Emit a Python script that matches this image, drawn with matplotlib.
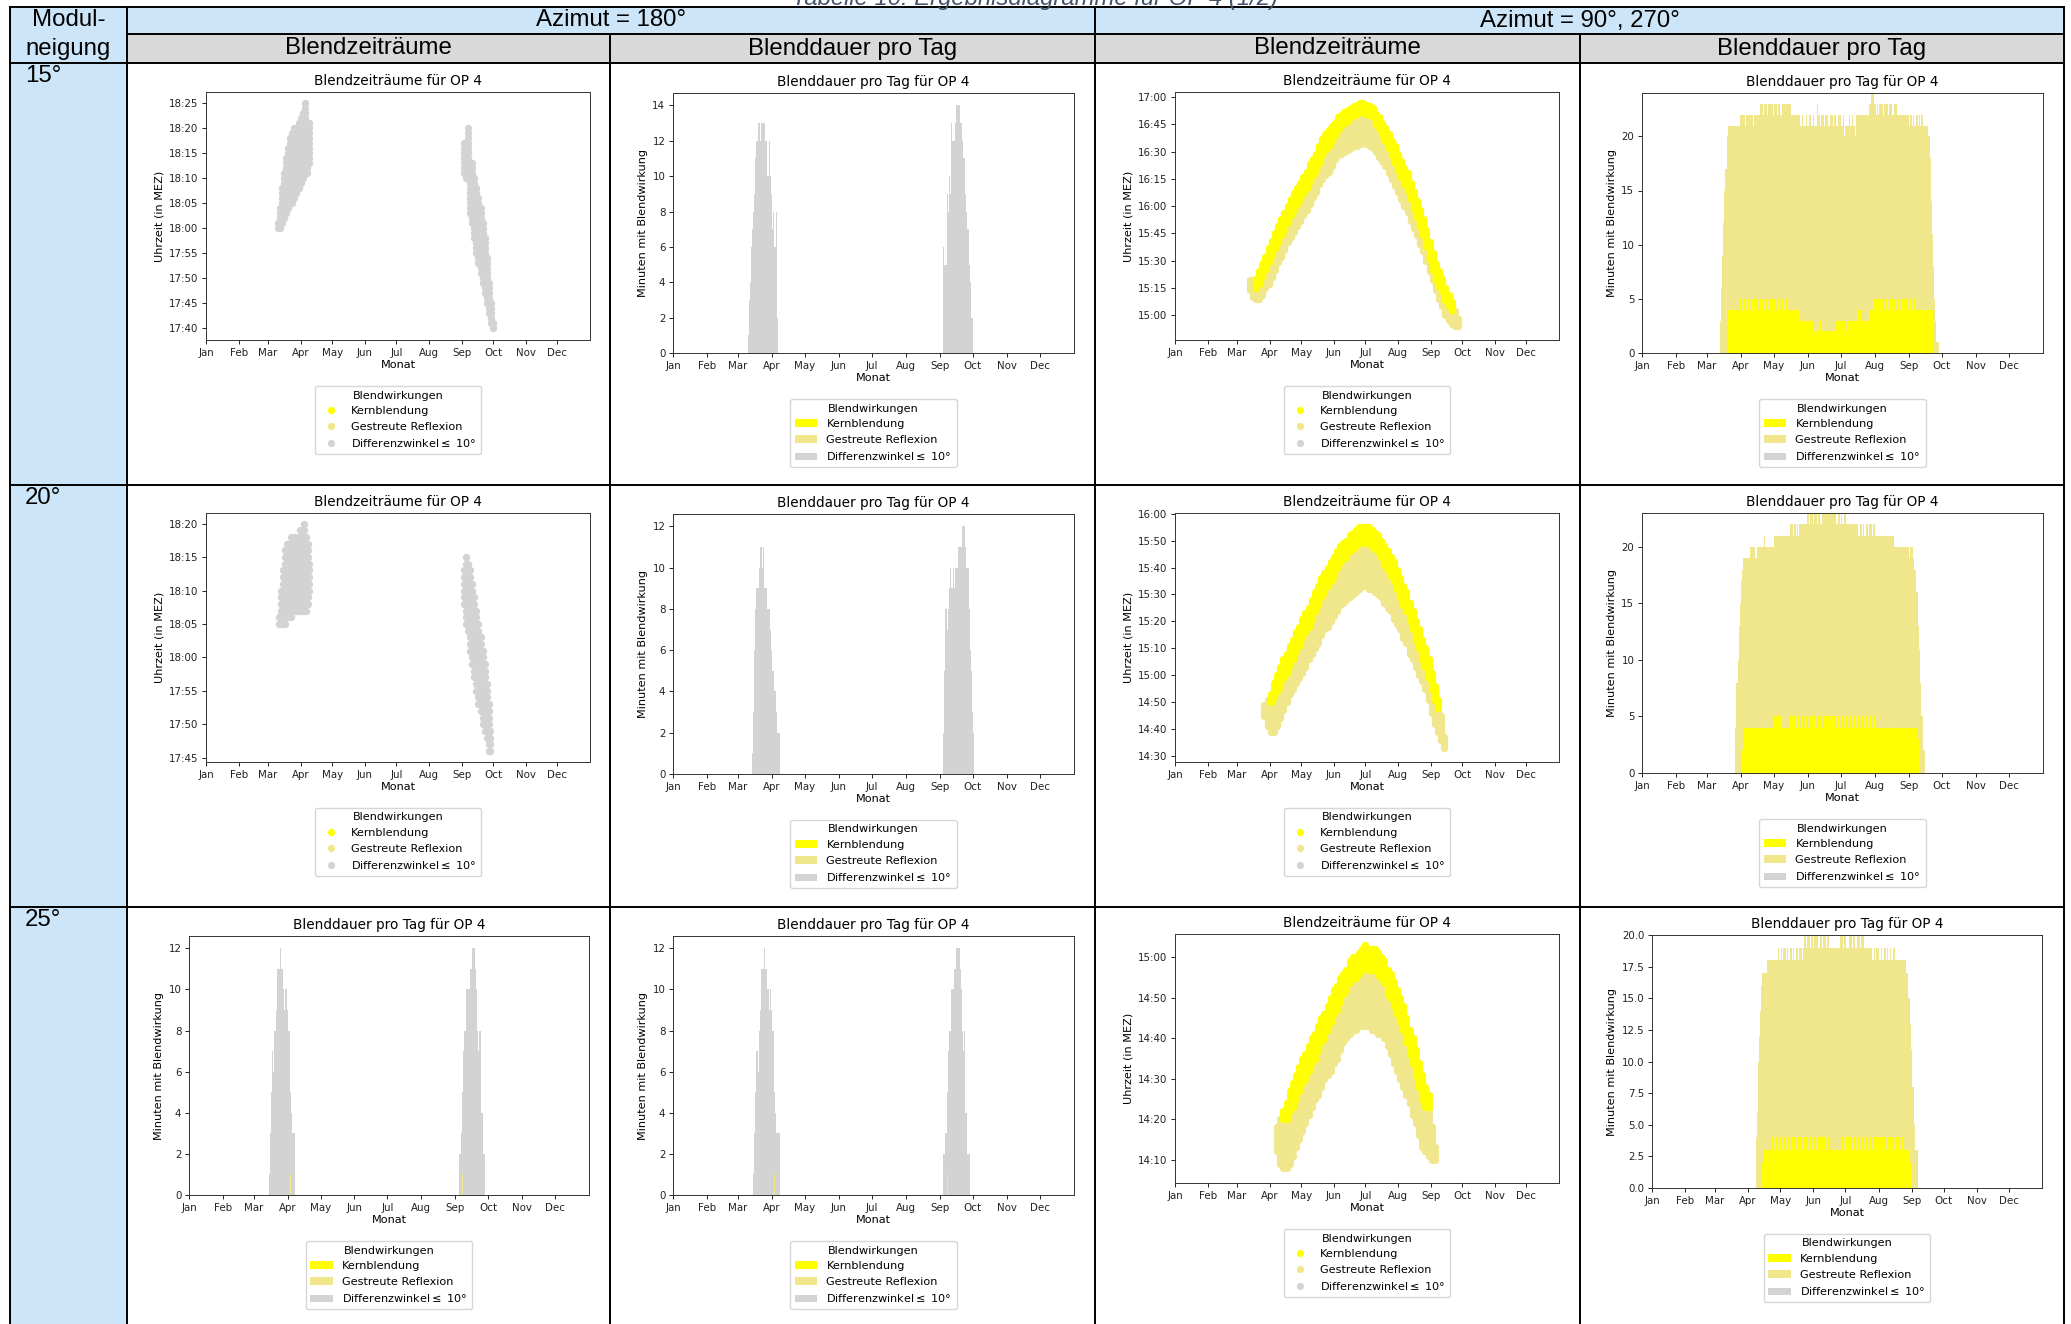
import matplotlib
matplotlib.use("Agg")
import matplotlib.pyplot as plt
from matplotlib.patches import Rectangle, Patch
from matplotlib.lines import Line2D
import numpy as np

plt.rcParams['font.family'] = ['DejaVu Sans']

W, H = 2071, 1324

KERN = '#FFFF00'
GESTR = '#F0E68C'
DIFF = '#D3D3D3'
LABELS = ['Kernblendung', 'Gestreute Reflexion', 'Differenzwinkel$\\leq$ 10°']

MONTHS = ['Jan', 'Feb', 'Mar', 'Apr', 'May', 'Jun', 'Jul', 'Aug', 'Sep', 'Oct', 'Nov', 'Dec']
MONTH_DAY = [0, 31, 59, 90, 120, 151, 181, 212, 243, 273, 304, 334]

# ---------------- Blendzeitraeume, Azimut 180 (day, von, bis) ----------------
A_180_TIMES = [
    (68, '18:00', '18:01'), (70, '18:00', '18:04'), (72, '18:01', '18:08'), (74, '18:02', '18:11'),
    (76, '18:03', '18:14'), (78, '18:04', '18:16'), (80, '18:05', '18:18'), (82, '18:05', '18:19'),
    (84, '18:06', '18:20'), (86, '18:07', '18:20'), (88, '18:08', '18:21'), (90, '18:09', '18:22'),
    (92, '18:10', '18:23'), (94, '18:11', '18:25'), (96, '18:11', '18:21'), (98, '18:13', '18:21'),
    (245, '18:11', '18:17'), (247, '18:10', '18:16'), (249, '18:10', '18:20'), (251, '18:03', '18:13'),
    (253, '18:01', '18:13'), (255, '17:58', '18:10'), (257, '17:55', '18:08'), (259, '17:53', '18:06'),
    (261, '17:51', '18:04'), (263, '17:49', '18:01'), (265, '17:47', '17:58'), (267, '17:45', '17:54'),
    (269, '17:43', '17:49'), (271, '17:41', '17:45'), (273, '17:40', '17:41'),
]
B_180_TIMES = [
    (69, '18:05', '18:06'), (71, '18:05', '18:10'), (73, '18:05', '18:13'), (75, '18:05', '18:16'),
    (77, '18:06', '18:17'), (79, '18:06', '18:17'), (81, '18:06', '18:18'), (83, '18:07', '18:18'),
    (85, '18:07', '18:18'), (87, '18:07', '18:18'), (89, '18:07', '18:19'), (91, '18:07', '18:19'),
    (93, '18:07', '18:20'), (95, '18:07', '18:18'), (97, '18:08', '18:17'), (98, '18:10', '18:14'),
    (245, '18:08', '18:13'), (247, '18:05', '18:15'), (249, '18:04', '18:14'), (251, '18:01', '18:13'),
    (253, '17:59', '18:11'), (255, '17:57', '18:09'), (257, '17:55', '18:07'), (259, '17:53', '18:05'),
    (261, '17:52', '18:03'), (263, '17:50', '18:01'), (265, '17:49', '17:59'), (267, '17:48', '17:56'),
    (269, '17:46', '17:53'), (270, '17:46', '17:49'),
]

# ---------------- Blendzeitraeume, Azimut 90/270 (day, von, Kern ab, bis) ----------------
A_90_TIMES = [
    (71, '15:14', None, '15:19'), (74, '15:10', None, '15:19'), (77, '15:09', '15:15', '15:20'),
    (80, '15:09', '15:17', '15:24'), (83, '15:11', '15:21', '15:28'), (86, '15:15', '15:25', '15:32'),
    (89, '15:17', '15:29', '15:37'), (92, '15:21', '15:33', '15:41'), (95, '15:25', '15:37', '15:45'),
    (98, '15:29', '15:40', '15:49'), (101, '15:32', '15:44', '15:53'), (104, '15:36', '15:47', '15:56'),
    (107, '15:40', '15:51', '16:00'), (110, '15:43', '15:55', '16:04'), (113, '15:46', '15:58', '16:07'),
    (116, '15:49', '16:01', '16:10'), (119, '15:52', '16:04', '16:13'), (122, '15:55', '16:07', '16:16'),
    (125, '15:58', '16:10', '16:19'), (128, '16:01', '16:14', '16:23'), (131, '16:05', '16:17', '16:26'),
    (134, '16:08', '16:20', '16:29'), (137, '16:12', '16:24', '16:33'), (140, '16:15', '16:28', '16:37'),
    (143, '16:17', '16:31', '16:40'), (146, '16:19', '16:33', '16:42'), (149, '16:22', '16:36', '16:44'),
    (152, '16:26', '16:39', '16:46'), (155, '16:28', '16:42', '16:49'), (158, '16:29', '16:44', '16:50'),
    (161, '16:30', '16:46', '16:52'), (164, '16:31', '16:47', '16:53'), (167, '16:32', '16:49', '16:54'),
    (170, '16:33', '16:50', '16:55'), (173, '16:33', '16:51', '16:56'), (176, '16:34', '16:52', '16:57'),
    (179, '16:35', '16:52', '16:57'), (182, '16:34', '16:51', '16:56'), (185, '16:33', '16:50', '16:55'),
    (188, '16:32', '16:49', '16:54'), (191, '16:30', '16:45', '16:51'), (194, '16:27', '16:43', '16:49'),
    (197, '16:25', '16:39', '16:46'), (200, '16:22', '16:36', '16:43'), (203, '16:18', '16:32', '16:40'),
    (206, '16:15', '16:28', '16:36'), (209, '16:11', '16:24', '16:33'), (212, '16:08', '16:20', '16:29'),
    (215, '16:04', '16:16', '16:25'), (218, '16:00', '16:12', '16:21'), (221, '15:57', '16:09', '16:18'),
    (224, '15:52', '16:04', '16:13'), (227, '15:48', '15:59', '16:08'), (230, '15:44', '15:54', '16:03'),
    (233, '15:39', '15:49', '15:58'), (236, '15:35', '15:44', '15:53'), (239, '15:30', '15:38', '15:47'),
    (242, '15:24', '15:31', '15:40'), (245, '15:19', '15:25', '15:34'), (248, '15:14', '15:20', '15:28'),
    (251, '15:09', '15:16', '15:24'), (254, '15:05', '15:13', '15:20'), (257, '15:00', '15:08', '15:15'),
    (260, '14:57', '15:05', '15:11'), (263, '14:55', '15:03', '15:07'), (266, '14:54', None, '15:02'),
    (269, '14:54', None, '14:58'),
]
B_90_TIMES = [
    (85, '14:45', None, '14:49'), (88, '14:41', None, '14:51'), (91, '14:39', '14:50', '14:53'),
    (94, '14:39', '14:52', '14:57'), (97, '14:41', '14:54', '15:00'), (100, '14:44', '14:56', '15:03'),
    (103, '14:47', '14:59', '15:06'), (106, '14:50', '15:01', '15:08'), (109, '14:53', '15:04', '15:11'),
    (112, '14:55', '15:06', '15:13'), (115, '14:57', '15:09', '15:16'), (118, '14:59', '15:11', '15:18'),
    (121, '15:01', '15:14', '15:21'), (124, '15:03', '15:16', '15:23'), (127, '15:06', '15:18', '15:25'),
    (130, '15:08', '15:21', '15:28'), (133, '15:10', '15:24', '15:31'), (136, '15:12', '15:26', '15:33'),
    (139, '15:15', '15:29', '15:36'), (142, '15:17', '15:31', '15:38'), (145, '15:18', '15:33', '15:40'),
    (148, '15:20', '15:35', '15:42'), (151, '15:22', '15:37', '15:44'), (154, '15:24', '15:40', '15:46'),
    (157, '15:26', '15:42', '15:48'), (160, '15:27', '15:43', '15:49'), (163, '15:28', '15:44', '15:50'),
    (166, '15:29', '15:46', '15:52'), (169, '15:30', '15:47', '15:53'), (172, '15:31', '15:48', '15:54'),
    (175, '15:32', '15:49', '15:55'), (178, '15:33', '15:49', '15:55'), (181, '15:33', '15:49', '15:55'),
    (184, '15:32', '15:49', '15:55'), (187, '15:32', '15:48', '15:54'), (190, '15:31', '15:47', '15:53'),
    (193, '15:30', '15:46', '15:52'), (196, '15:29', '15:44', '15:50'), (199, '15:27', '15:41', '15:48'),
    (202, '15:25', '15:39', '15:46'), (205, '15:24', '15:37', '15:44'), (208, '15:21', '15:35', '15:42'),
    (211, '15:19', '15:32', '15:39'), (214, '15:17', '15:29', '15:36'), (217, '15:14', '15:26', '15:33'),
    (220, '15:12', '15:24', '15:31'), (223, '15:08', '15:20', '15:27'), (226, '15:06', '15:17', '15:24'),
    (229, '15:03', '15:13', '15:20'), (232, '15:00', '15:10', '15:17'), (235, '14:58', '15:06', '15:13'),
    (238, '14:55', '15:03', '15:10'), (241, '14:51', '14:59', '15:06'), (244, '14:46', '14:55', '15:01'),
    (247, '14:42', '14:51', '14:56'), (250, '14:39', '14:48', '14:51'), (253, '14:36', None, '14:45'),
    (256, '14:33', None, '14:37'),
]
C_90_TIMES = [
    (97, '14:12', None, '14:18'), (100, '14:09', None, '14:20'), (103, '14:08', '14:20', '14:22'),
    (106, '14:08', '14:20', '14:24'), (109, '14:09', '14:22', '14:27'), (112, '14:11', '14:23', '14:29'),
    (115, '14:13', '14:25', '14:31'), (118, '14:15', '14:27', '14:33'), (121, '14:17', '14:29', '14:35'),
    (124, '14:19', '14:30', '14:36'), (127, '14:21', '14:32', '14:38'), (130, '14:23', '14:34', '14:40'),
    (133, '14:25', '14:35', '14:41'), (136, '14:26', '14:37', '14:43'), (139, '14:28', '14:39', '14:45'),
    (142, '14:30', '14:40', '14:46'), (145, '14:31', '14:42', '14:48'), (148, '14:32', '14:44', '14:50'),
    (151, '14:34', '14:46', '14:52'), (154, '14:35', '14:47', '14:53'), (157, '14:37', '14:49', '14:55'),
    (160, '14:39', '14:51', '14:56'), (163, '14:40', '14:52', '14:57'), (166, '14:41', '14:54', '14:59'),
    (169, '14:42', '14:55', '15:00'), (172, '14:42', '14:55', '15:00'), (175, '14:43', '14:56', '15:01'),
    (178, '14:43', '14:57', '15:02'), (181, '14:43', '14:58', '15:03'), (184, '14:43', '14:57', '15:02'),
    (187, '14:42', '14:57', '15:02'), (190, '14:42', '14:57', '15:02'), (193, '14:41', '14:56', '15:01'),
    (196, '14:41', '14:55', '15:00'), (199, '14:40', '14:54', '14:59'), (202, '14:38', '14:51', '14:57'),
    (205, '14:36', '14:50', '14:56'), (208, '14:34', '14:48', '14:54'), (211, '14:32', '14:46', '14:52'),
    (214, '14:30', '14:44', '14:50'), (217, '14:28', '14:42', '14:48'), (220, '14:26', '14:39', '14:45'),
    (223, '14:24', '14:36', '14:42'), (226, '14:21', '14:34', '14:40'), (229, '14:19', '14:31', '14:37'),
    (232, '14:16', '14:28', '14:34'), (235, '14:13', '14:25', '14:31'), (238, '14:12', '14:23', '14:28'),
    (241, '14:11', '14:23', '14:26'), (244, '14:10', None, '14:18'), (247, '14:10', None, '14:13'),
]

# ---------------- Blenddauer pro Tag, Azimut 180 (Starttag, Minuten je Tag) ----------------
A_180_DIFF = [(68, [1, 3, 4, 6, 7, 8, 9, 11, 12, 13, 13, 12, 13, 13, 13, 13, 12, 12, 10, 12, 10, 9, 7, 8, 6, 6, 8, 2]),
              (246, [6, 5, 5, 9, 8, 10, 9, 13, 12, 12, 12, 13, 14, 14, 14, 13, 13, 12, 11, 11, 9, 8, 7, 5, 4, 2, 2])]
B_180_DIFF = [(72, [1, 3, 6, 8, 9, 9, 10, 11, 11, 10, 11, 9, 9, 9, 8, 8, 7, 6, 5, 5, 4, 4, 3, 2, 2]),
              (246, [2, 5, 8, 7, 8, 9, 10, 9, 9, 10, 9, 10, 10, 11, 11, 11, 11, 12, 12, 12, 11, 10, 10, 8, 6, 5, 3, 2])]
C_180_DIFF = [(73, [1, 3, 5, 7, 6, 8, 9, 11, 11, 11, 12, 11, 11, 10, 9, 10, 9, 8, 8, 5, 4, 3, 3, 3]),
              (246, [2, 2, 3, 5, 7, 8, 8, 10, 10, 10, 11, 11, 12, 12, 12, 11, 10, 8, 7, 8, 4, 4, 2, 2])]
C_180_GESTR = [(92, [1]), (249, [1])]

# ---------------- Blenddauer pro Tag, Azimut 90/270 (Starttag, (Minuten, Anzahl Tage)) ----------------
A_90_GESTR = (71, [(3, 1), (6, 1), (9, 1), (12, 1), (15, 1), (17, 1), (20, 1), (21, 11),
                   (22, 5), (21, 1), (22, 6), (21, 1), (22, 5),
                   (23, 3), (22, 1), (23, 3), (22, 1), (23, 4), (22, 1), (23, 3), (22, 1), (23, 2), (22, 1),
                   (23, 9), (22, 8),
                   (21, 2), (22, 1), (21, 2), (22, 1), (21, 2), (22, 2), (21, 2), (22, 1), (21, 2), (23, 1),
                   (22, 2), (21, 1), (22, 3), (21, 1), (22, 2), (21, 2), (22, 3), (21, 1), (22, 2), (21, 1),
                   (22, 3), (21, 2), (22, 1), (20, 1), (21, 1),
                   (21, 2), (22, 1), (21, 2), (22, 1), (21, 2), (20, 1),
                   (22, 12), (23, 1), (24, 3), (23, 2), (22, 1), (23, 1), (22, 1),
                   (23, 3), (22, 1), (23, 4), (22, 1), (23, 3), (22, 1), (23, 3), (22, 11),
                   (21, 1), (22, 2), (21, 1), (22, 1), (21, 1), (22, 2), (21, 1), (22, 1), (21, 1), (22, 2), (21, 2),
                   (21, 2), (20, 2), (18, 1), (14, 1), (11, 1), (8, 1), (5, 1), (3, 1), (1, 2)])
A_90_KERN = (78, [(4, 11),
                  (5, 2), (4, 1), (5, 3), (4, 1), (5, 2), (4, 2), (5, 3), (4, 1), (5, 2), (4, 1), (5, 4), (4, 1),
                  (5, 2), (4, 2), (5, 3), (4, 1), (5, 2), (4, 1), (5, 3), (4, 1), (5, 2), (4, 1), (5, 3), (4, 1),
                  (4, 9), (3, 11),
                  (2, 1), (3, 2), (2, 2), (3, 1), (2, 2), (3, 2), (2, 1), (3, 1), (2, 2), (2, 9),
                  (3, 2), (2, 1), (3, 3), (2, 1), (3, 2), (2, 1), (3, 5),
                  (3, 4), (4, 3), (3, 8), (4, 3),
                  (5, 2), (4, 1), (5, 3), (4, 1), (5, 2), (4, 2), (5, 3), (4, 1), (5, 2), (4, 1), (5, 3), (4, 2),
                  (5, 2), (4, 1), (5, 3), (4, 1), (5, 2), (4, 1), (5, 2), (4, 2), (5, 2),
                  (4, 16)])
B_90_GESTR = (85, [(4, 1), (8, 1), (10, 1), (13, 1), (15, 1), (17, 1), (18, 1), (19, 6), (20, 5), (19, 2),
                   (20, 6), (21, 1), (20, 8), (21, 15),
                   (22, 2), (21, 1), (22, 2), (21, 1), (22, 1), (21, 1), (22, 2), (22, 5),
                   (23, 2), (22, 1), (23, 3), (22, 1), (23, 2), (22, 1), (23, 2), (22, 2), (23, 3), (23, 10),
                   (22, 1), (23, 2), (22, 1), (23, 1), (22, 2), (23, 2), (22, 2), (22, 9),
                   (21, 1), (22, 2), (21, 1), (22, 1), (21, 2), (22, 2), (21, 1), (22, 2), (21, 1), (22, 2),
                   (21, 17), (20, 14),
                   (19, 1), (20, 3), (19, 1), (18, 1), (16, 2), (13, 1), (11, 1), (8, 1), (5, 2), (2, 2)])
B_90_KERN = (91, [(2, 1), (4, 18), (5, 1), (4, 9), (5, 7), (4, 8),
                  (5, 2), (4, 1), (5, 2), (4, 1), (5, 3), (4, 1), (5, 2), (4, 1), (5, 2), (4, 2), (5, 2), (4, 1),
                  (5, 3), (4, 1), (5, 2), (4, 1), (5, 2), (4, 2), (5, 11),
                  (4, 1), (5, 2), (4, 1), (5, 3), (4, 1), (5, 2), (4, 2), (5, 2), (4, 1), (5, 3), (4, 1), (5, 2),
                  (4, 1), (5, 2), (4, 2), (5, 3), (4, 1), (5, 2), (4, 1), (5, 3),
                  (4, 14), (5, 1), (4, 22), (3, 2), (2, 1)])
C_90_GESTR = (97, [(4, 1), (6, 1), (10, 1), (12, 1), (14, 1), (16, 1), (17, 5), (18, 10),
                   (19, 1), (18, 2), (19, 1), (18, 1), (19, 2), (18, 1), (19, 1), (18, 2), (19, 2), (18, 1),
                   (19, 1), (18, 2), (19, 2), (18, 1), (19, 2), (18, 1), (19, 1),
                   (20, 2), (19, 1), (20, 3), (19, 1), (20, 2), (19, 1), (20, 3), (19, 2), (20, 2), (19, 1),
                   (20, 3), (19, 1), (20, 2), (19, 3), (19, 7),
                   (20, 3), (19, 1), (20, 2), (19, 2), (20, 3), (19, 1), (20, 2), (19, 2), (20, 3), (19, 1),
                   (20, 2), (19, 2), (19, 6),
                   (18, 2), (19, 1), (18, 1), (19, 2), (18, 2), (19, 1), (18, 2), (19, 2), (18, 1), (19, 1),
                   (18, 2), (19, 1), (18, 2), (19, 1), (18, 11),
                   (17, 2), (15, 1), (13, 1), (11, 1), (8, 2), (5, 1), (3, 3)])
C_90_KERN = (103, [(2, 2), (3, 7),
                   (4, 2), (3, 1), (4, 3), (3, 1), (4, 2), (3, 2), (4, 2), (3, 1), (4, 3), (3, 1), (4, 2), (3, 1),
                   (4, 2), (3, 2), (4, 3), (3, 1), (4, 2), (3, 1), (4, 2), (3, 1), (4, 3), (3, 1), (4, 2), (3, 1),
                   (4, 2), (3, 1), (4, 3), (3, 1), (4, 2), (3, 1), (4, 2), (3, 12),
                   (4, 2), (3, 1), (4, 3), (3, 1), (4, 2), (3, 2), (4, 2), (3, 1), (4, 3), (3, 1), (4, 2), (3, 1),
                   (4, 2), (3, 2), (4, 3), (3, 1), (4, 2), (3, 1), (4, 2), (3, 1), (4, 3), (3, 1), (4, 2), (3, 1),
                   (4, 2), (3, 1), (4, 3), (3, 1), (4, 2), (3, 1), (4, 2), (3, 1), (4, 3), (3, 5), (2, 1)])


def tmin(s):
    h, m = s.split(':')
    return int(h) * 60 + int(m)


def hhmm(v):
    v = int(round(v))
    return '%02d:%02d' % (v // 60, v % 60)


def runs_to_days(start, runs):
    vals = []
    for v, n in runs:
        vals += [v] * n
    return np.arange(start, start + len(vals)), np.array(vals)


def lists_to_days(blocks):
    days, vals = [], []
    for start, v in blocks:
        days += list(range(start, start + len(v)))
        vals += v
    return np.array(days), np.array(vals)


def fig_box(l, t, r, b):
    return [l / W, 1 - b / H, (r - l) / W, (b - t) / H]


fig = plt.figure(figsize=(W / 100, H / 100), dpi=100)

# ---------------- table ----------------
BLUE = '#CCE5F8'
GREY = '#D9D9D9'
XS = [10, 127, 610, 1095, 1580, 2064]
YS = [7, 34, 63, 485, 907]


def cell(x0, y0, x1, y1, color):
    fig.add_artist(Rectangle((x0 / W, 1 - y1 / H), (x1 - x0) / W, (y1 - y0) / H,
                             transform=fig.transFigure, facecolor=color, edgecolor='none', zorder=-2))


def hline(y, x0, x1):
    fig.add_artist(Line2D([x0 / W, x1 / W], [1 - y / H, 1 - y / H], transform=fig.transFigure,
                          color='black', lw=1.4, zorder=-1))


def vline(x, y0, y1):
    fig.add_artist(Line2D([x / W, x / W], [1 - y0 / H, 1 - y1 / H], transform=fig.transFigure,
                          color='black', lw=1.4, zorder=-1))


cell(XS[0], YS[0], XS[1], H, BLUE)
cell(XS[1], YS[0], XS[5], YS[1], BLUE)
cell(XS[1], YS[1], XS[5], YS[2], GREY)
hline(YS[0], XS[0], XS[5])
hline(YS[1], XS[1], XS[5])
for y in YS[2:]:
    hline(y, XS[0], XS[5])
for x in (XS[0], XS[1], XS[3], XS[5]):
    vline(x, YS[0], H)
for x in (XS[2], XS[4]):
    vline(x, YS[1], H)

hfont = dict(family=['Liberation Sans', 'DejaVu Sans'], fontsize=17.3, color='black')
# caption sits half above the page edge, as in the source
fig.text(0.5, 1 - 5 / H, 'Tabelle 10: Ergebnisdiagramme für OP 4 (1/2)', ha='center', va='baseline',
         style='italic', family=['Liberation Sans', 'DejaVu Sans'], fontsize=17.2, color='#44546A')
fig.text(68.5 / W, 1 - 20.5 / H, 'Modul-', ha='center', va='center', **hfont)
fig.text(68.5 / W, 1 - 48.5 / H, 'neigung', ha='center', va='center', **hfont)
fig.text((XS[1] + XS[3]) / 2 / W, 1 - 20.5 / H, 'Azimut = 180°', ha='center', va='center', **hfont)
fig.text((XS[3] + XS[5]) / 2 / W, 1 - 20.5 / H, 'Azimut = 90°, 270°', ha='center', va='center', **hfont)
for i, txt in enumerate(['Blendzeiträume', 'Blenddauer pro Tag', 'Blendzeiträume', 'Blenddauer pro Tag']):
    fig.text((XS[i + 1] + XS[i + 2]) / 2 / W, 1 - 48.5 / H, txt, ha='center', va='center', **hfont)
for y, txt in zip(YS[2:], ['15°', '20°', '25°']):
    fig.text(25 / W, 1 - (y + 2) / H, txt, ha='left', va='top', **hfont)


# ---------------- charts ----------------
def base_axes(box, title, ylabel):
    ax = fig.add_axes(fig_box(*box))
    ax.set_title(title, fontsize=9.8, pad=5)
    ax.set_xlim(0, 365)
    ax.set_xticks(MONTH_DAY)
    ax.set_xticklabels(MONTHS)
    ax.set_xlabel('Monat', fontsize=8.1, labelpad=2)
    ax.set_ylabel(ylabel, fontsize=8.1, labelpad=3)
    ax.tick_params(labelsize=7.4, length=3, width=0.7, pad=2.5, colors='#222222')
    for s in ax.spines.values():
        s.set_linewidth(0.7)
        s.set_color('#333333')
    return ax


def add_legend(ax, box, kind):
    l, t, r, b = box
    if kind == 'dots':
        handles = [Line2D([], [], marker='o', ls='', markersize=5.2, markeredgewidth=0, markerfacecolor=c)
                   for c in (KERN, GESTR, DIFF)]
    else:
        handles = [Patch(facecolor=c, edgecolor='none') for c in (KERN, GESTR, DIFF)]
    ax.legend(handles, LABELS, title='Blendwirkungen', fontsize=8.1, title_fontsize=8.1,
              loc='upper center', bbox_to_anchor=((l + r) / 2 / W, 1 - (b + 46) / H),
              bbox_transform=fig.transFigure, borderaxespad=0)


def times_panel(box, ylim, yticks):
    ax = base_axes(box, 'Blendzeiträume für OP 4', 'Uhrzeit (in MEZ)')
    ax.set_ylim(*ylim)
    ax.set_yticks(yticks)
    ax.set_yticklabels([hhmm(v) for v in yticks])
    add_legend(ax, box, 'dots')
    return ax


def draw_diff_times(ax, rows):
    xs, ys = [], []
    for day, a, b in rows:
        m = list(range(tmin(a), tmin(b) + 1))
        xs += [day] * len(m)
        ys += m
    ax.scatter(xs, ys, s=28, c=DIFF, linewidths=0)


def draw_band_times(ax, rows):
    gx, gy, kx, ky = [], [], [], []
    for day, a, k, b in rows:
        top = tmin(b)
        split = tmin(k) if k else top + 1
        m = list(range(tmin(a), split))
        gx += [day] * len(m)
        gy += m
        if k:
            m = list(range(split, top + 1))
            kx += [day] * len(m)
            ky += m
    ax.scatter(gx, gy, s=28, c=GESTR, linewidths=0)
    ax.scatter(kx, ky, s=28, c=KERN, linewidths=0)


def duration_panel(box, ylim, yticks, series, fmt='%d'):
    ax = base_axes(box, 'Blenddauer pro Tag für OP 4', 'Minuten mit Blendwirkung')
    for color, (days, vals) in series:
        ax.bar(days, vals, width=1.0, align='edge', color=color, linewidth=0)
    ax.set_ylim(*ylim)
    ax.set_yticks(yticks)
    ax.set_yticklabels([fmt % v for v in yticks])
    add_legend(ax, box, 'bars')
    return ax


# Row 15 deg
ax = times_panel((206, 92, 590, 340), (1057.7, 1107.2), list(range(1060, 1106, 5)))
draw_diff_times(ax, A_180_TIMES)
duration_panel((673, 93, 1074, 353), (0, 14.7), list(range(0, 15, 2)),
               [(DIFF, lists_to_days(A_180_DIFF))])
ax = times_panel((1175, 92, 1559, 340), (886.2, 1022.9), list(range(900, 1021, 15)))
draw_band_times(ax, A_90_TIMES)
duration_panel((1642, 93, 2043, 353), (0, 24), [0, 5, 10, 15, 20],
               [(GESTR, runs_to_days(*A_90_GESTR)), (KERN, runs_to_days(*A_90_KERN))])

# Row 20 deg
ax = times_panel((206, 513, 590, 762), (1064.35, 1101.6), list(range(1065, 1101, 5)))
draw_diff_times(ax, B_180_TIMES)
duration_panel((673, 514, 1074, 774), (0, 12.6), list(range(0, 13, 2)),
               [(DIFF, lists_to_days(B_180_DIFF))])
ax = times_panel((1175, 513, 1559, 762), (867.8, 960.25), list(range(870, 961, 10)))
draw_band_times(ax, B_90_TIMES)
duration_panel((1642, 513, 2043, 773), (0, 23), [0, 5, 10, 15, 20],
               [(GESTR, runs_to_days(*B_90_GESTR)), (KERN, runs_to_days(*B_90_KERN))])

# Row 25 deg
duration_panel((189, 936, 589, 1195), (0, 12.6), list(range(0, 13, 2)),
               [(DIFF, lists_to_days(C_180_DIFF)), (GESTR, lists_to_days(C_180_GESTR))])
duration_panel((673, 936, 1074, 1195), (0, 12.6), list(range(0, 13, 2)),
               [(DIFF, lists_to_days(C_180_DIFF)), (GESTR, lists_to_days(C_180_GESTR))])
ax = times_panel((1175, 934, 1559, 1183), (844.2, 905.8), list(range(850, 901, 10)))
draw_band_times(ax, C_90_TIMES)
duration_panel((1652, 935, 2042, 1188), (0, 20), [0, 2.5, 5, 7.5, 10, 12.5, 15, 17.5, 20],
               [(GESTR, runs_to_days(*C_90_GESTR)), (KERN, runs_to_days(*C_90_KERN))], fmt='%.1f')

fig.savefig('out.png', dpi=100)
